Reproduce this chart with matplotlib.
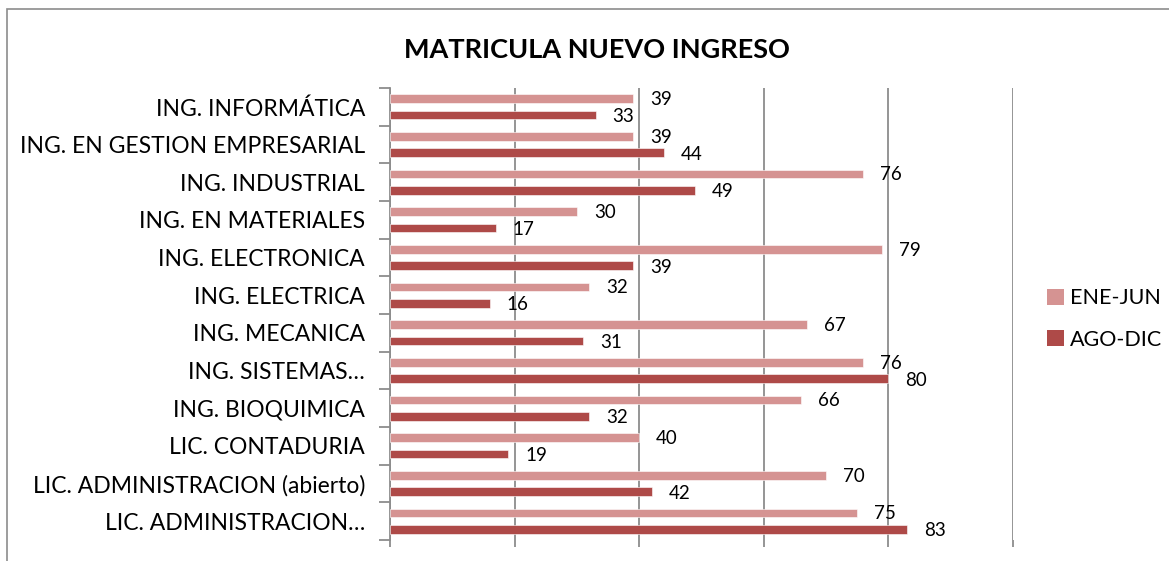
import numpy as np
import matplotlib
matplotlib.use("Agg")
import matplotlib.pyplot as plt
from matplotlib.patches import Rectangle, Patch

plt.rcParams['font.family'] = ['Lato', 'DejaVu Sans']

categories = ["ING. INFORMÁTICA", "ING. EN GESTION EMPRESARIAL", "ING. INDUSTRIAL",
              "ING. EN MATERIALES", "ING. ELECTRONICA", "ING. ELECTRICA",
              "ING. MECANICA", "ING. SISTEMAS…", "ING. BIOQUIMICA",
              "LIC. CONTADURIA", "LIC. ADMINISTRACION (abierto)", "LIC. ADMINISTRACION…"]
ene_jun = [39, 39, 76, 30, 79, 32, 67, 76, 66, 40, 70, 75]
ago_dic = [33, 44, 49, 17, 39, 16, 31, 80, 32, 19, 42, 83]
series_names = ["ENE-JUN", "AGO-DIC"]
colors = ["#D59392", "#AE4A48"]

fig = plt.figure(figsize=(11.69, 5.61), dpi=100)
# outer chart frame
fig.patches.append(Rectangle((7 / 1169, -0.1), 1.2, 1.1 - 9 / 561, transform=fig.transFigure,
                             fill=False, edgecolor="#8c8c8c", linewidth=1.2))

ax = fig.add_axes([390 / 1169, 1 - 540 / 561, 623 / 1169, (540 - 88) / 561])

y = np.arange(len(categories))
off = 0.215
h = 0.23
ax.barh(y - off, ene_jun, height=h, color=colors[0], edgecolor="white", linewidth=0.4,
        zorder=3)
ax.barh(y + off, ago_dic, height=h, color=colors[1], edgecolor="white", linewidth=0.4,
        zorder=3)

for i in range(len(categories)):
    ax.text(ene_jun[i] + 2.7, y[i] - off + 0.02, str(ene_jun[i]), va="center", ha="left",
            fontsize=13.5)
    ax.text(ago_dic[i] + 2.7, y[i] + off + 0.04, str(ago_dic[i]), va="center", ha="left",
            fontsize=13.5)

ax.set_xlim(0, 100)
ax.set_ylim(len(categories) - 0.5, -0.5)
ax.set_xticks([0, 20, 40, 60, 80, 100])
ax.set_xticklabels([])
ax.xaxis.grid(True, color="#8c8c8c", linewidth=1.3, zorder=0)
ax.tick_params(axis="x", length=5, color="#8c8c8c", width=1.3)

ax.set_yticks(y)
ax.set_yticklabels(categories, fontsize=16.5)
ax.tick_params(axis="y", length=0, pad=18)
ax.set_yticks(np.arange(len(categories) + 1) - 0.5, minor=True)
ax.tick_params(axis="y", which="minor", length=8, color="#8c8c8c", width=1.3)

for s in ["top", "right", "bottom"]:
    ax.spines[s].set_visible(False)
ax.spines["left"].set_color("#8c8c8c")
ax.spines["left"].set_linewidth(1.3)

fig.text(597 / 1169, 1 - 50 / 561, "MATRICULA NUEVO INGRESO", ha="center", va="center",
         fontsize=19.5, fontweight="bold")

handles = [Patch(facecolor=c, edgecolor="none") for c in colors]
fig.legend(handles, series_names, loc="center left", bbox_to_anchor=(1028 / 1169, 1 - 319 / 561),
           frameon=False, fontsize=15.5, handlelength=0.75, handleheight=0.75,
           handletextpad=0.3, labelspacing=1.0)

fig.savefig("out.png", dpi=100)
